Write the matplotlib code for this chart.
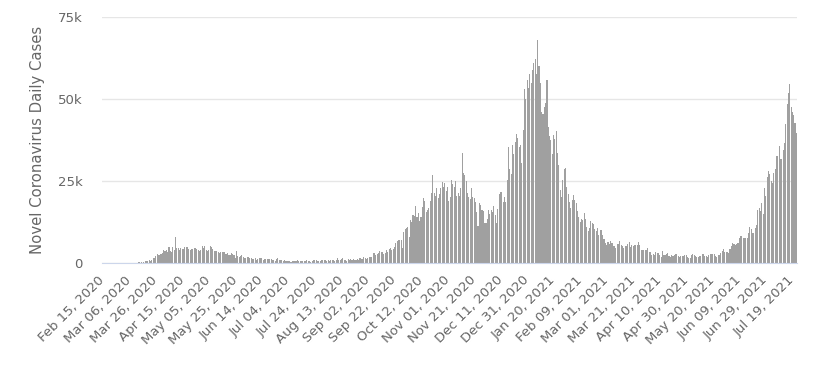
import numpy as np
import pandas as pd
import matplotlib
matplotlib.use("Agg")
import matplotlib.pyplot as plt

# daily new cases (first day: Feb 15, 2020)
start_date = "2020-02-15"
feb_2020 = [0, 0, 0, 0, 0, 0, 0, 0, 0, 0, 0, 0, 0, 4, 3]
mar_2020 = [3, 4, 11, 34, 30, 48, 43, 67, 48, 52, 83, 134, 208, 342, 251, 152,
            407, 676, 643, 714, 1035, 665, 967, 1427, 1452, 2129, 2885, 2546, 2433, 2619, 3009]
apr_2020 = [3900, 3800, 3900, 3500, 5000, 3600, 3500, 4800, 4100, 7900, 4700, 4700, 4100, 4700, 4300,
            4300, 4900, 4800, 5000, 4400, 4100, 4200, 4300, 4700, 4500, 4200, 4100, 3800, 3900, 5200]
may_2020 = [4500, 5300, 4100, 3800, 4100, 5200, 4900, 4400, 3700, 3700, 3600, 3300, 3200, 3300, 3400, 3300,
            3300, 2600, 3200, 2400, 2500, 3100, 2800, 2300, 1600, 3700, 2000, 1850, 2000, 2300, 1900]
jun_2020 = [1570, 1653, 1871, 1805, 1650, 1557, 1326, 1205, 1387, 1003, 1266, 1541, 1425, 1514, 1056,
            1279, 1115, 1218, 1346, 1295, 1221, 958, 874, 653, 1118, 1380, 890, 901, 815, 689]
jul_2020 = [829, 576, 544, 624, 516, 352, 581, 630, 512, 642, 820, 650, 530, 598, 538, 642,
            687, 827, 726, 580, 445, 560, 769, 767, 880, 747, 685, 581, 763, 846, 880]
aug_2020 = [771, 744, 938, 670, 892, 950, 871, 758, 1062, 1441, 816, 1009, 1148, 1441, 1012, 1040,
            713, 1089, 812, 1182, 1033, 1288, 1041, 853, 1184, 1048, 1522, 1276, 1108, 1715, 1406]
sep_2020 = [1295, 1508, 1735, 1813, 1940, 2988, 2948, 2420, 2659, 2919, 3539, 3497, 3330, 2621, 3105,
            3991, 3395, 4322, 4422, 3899, 4368, 4926, 6178, 6634, 7000, 7100, 6900, 4600, 9500, 10500]
oct_2020 = [10800, 11000, 7800, 13000, 12600, 14500, 14200, 17500, 13900, 15200, 12900, 14000, 17200,
            19700, 18900, 15600, 16200, 16900, 18800, 21300, 26700, 21200, 20500, 23000, 19800, 20900,
            22900, 24700, 23100, 24400, 21900]
nov_2020 = [23254, 18950, 20018, 25177, 24141, 23287, 24957, 20572, 21350, 20412, 22950, 33470, 27301,
            26860, 24962, 21363, 20051, 19609, 22915, 20252, 19875, 18662, 15450, 11299, 18213, 17555,
            16022, 15871, 12155, 12330]
dec_2020 = [13430, 16170, 14879, 16298, 15539, 17272, 14718, 12282, 16578, 20964, 21672, 21502, 18447,
            20263, 18450, 25161, 35383, 28507, 27052, 35928, 33364, 36804, 39237, 38000, 35500, 36000,
            30400, 40500, 53135, 50023, 55892]
jan_2021 = [53285, 57725, 54990, 58784, 60916, 62322, 57500, 68053, 59937, 54940, 46169, 45533, 47525,
            48682, 55761, 41346, 38598, 37535, 33355, 38905, 37892, 40261, 33552, 30004, 22195, 20089,
            25308, 28680, 29079, 23275, 21088]
feb_2021 = [18607, 16840, 19202, 20634, 19114, 18262, 15845, 14104, 12364, 13494, 13013, 15144, 13308,
            10972, 9765, 10625, 12718, 12057, 12027, 10406, 9834, 10641, 8489, 9938, 9985, 8523, 7434, 6035]
mar_2021 = [5455, 6391, 5766, 6573, 6040, 5177, 5177, 4712, 5766, 5926, 6609, 5534, 5089, 4618, 5089,
            5294, 5758, 6303, 4802, 5587, 5312, 5342, 5379, 5605, 6397, 5386, 3862, 3862, 4040, 4052, 4052]
apr_2021 = [4479, 3402, 3423, 2297, 2762, 2379, 3210, 3150, 3030, 2589, 1730, 3568, 2472, 2491, 2672,
            3039, 2206, 1882, 2524, 2029, 2396, 2729, 2615, 2174, 1712, 2064, 1989, 2166, 2445, 2381]
may_2021 = [1907, 1671, 1649, 2357, 2613, 2490, 2047, 1770, 1979, 2073, 2284, 2657, 2896, 2193, 2027,
            1926, 2412, 2696, 2874, 2829, 2829, 2235, 1979, 2439, 2493, 3180, 3542, 4182, 3240, 3398, 3383]
jun_2021 = [3165, 4330, 5274, 6238, 5765, 5341, 5683, 6048, 7540, 8125, 8125, 7738, 7490, 7742, 7673,
            9055, 11007, 10476, 9284, 9001, 10633, 11625, 16135, 16703, 15810, 18270, 14876, 22868,
            20479, 26068]
jul_2021 = [27989, 27125, 24885, 24248, 27334, 28773, 32548, 32551, 35707, 31772, 31772, 34471, 36660,
            42302, 48553, 51870, 54674, 47700, 46000, 45000, 42700, 39600]

y_ticks = [0, 25000, 50000, 75000]
y_tick_labels = ["0", "25k", "50k", "75k"]
label_step = 20

cases = np.array(feb_2020 + mar_2020 + apr_2020 + may_2020 + jun_2020 + jul_2020 + aug_2020
                 + sep_2020 + oct_2020 + nov_2020 + dec_2020 + jan_2021 + feb_2021 + mar_2021
                 + apr_2021 + may_2021 + jun_2021 + jul_2021)
dates = pd.date_range(start_date, periods=len(cases), freq="D")
x = np.arange(len(cases))

plt.rcParams["font.family"] = ["DejaVu Sans"]
fig = plt.figure(figsize=(8.18, 3.74), dpi=100)
ax = fig.add_axes([102/818, 1-263/374, 695/818, 246/374])

ax.bar(x, cases, width=0.8, color="#a0a0a0", linewidth=0)
ax.set_xlim(-0.5, len(cases)-0.5)
ax.set_ylim(0, 75000)

ax.set_yticks(y_ticks)
ax.set_yticklabels(y_tick_labels)
ax.yaxis.grid(True, color="#e6e6e6", lw=1)
ax.set_axisbelow(True)
for s in ["top", "right", "left"]:
    ax.spines[s].set_visible(False)
ax.spines["bottom"].set_color("#ccd6eb")
ax.tick_params(axis="y", length=0, pad=14, labelsize=9.5, labelcolor="#666666")

xt = x[::label_step]
ax.set_xticks(xt)
ax.set_xticklabels([dates[i].strftime("%b %d, %Y") for i in xt], rotation=45,
                   ha="right", va="center", rotation_mode="anchor")
ax.tick_params(axis="x", length=0, pad=11, labelsize=9.5, labelcolor="#666666")

ax.set_ylabel("Novel Coronavirus Daily Cases", fontsize=10.7, color="#666666")
ax.yaxis.set_label_coords(-0.082, 0.5)

fig.savefig("out.png", dpi=100)
